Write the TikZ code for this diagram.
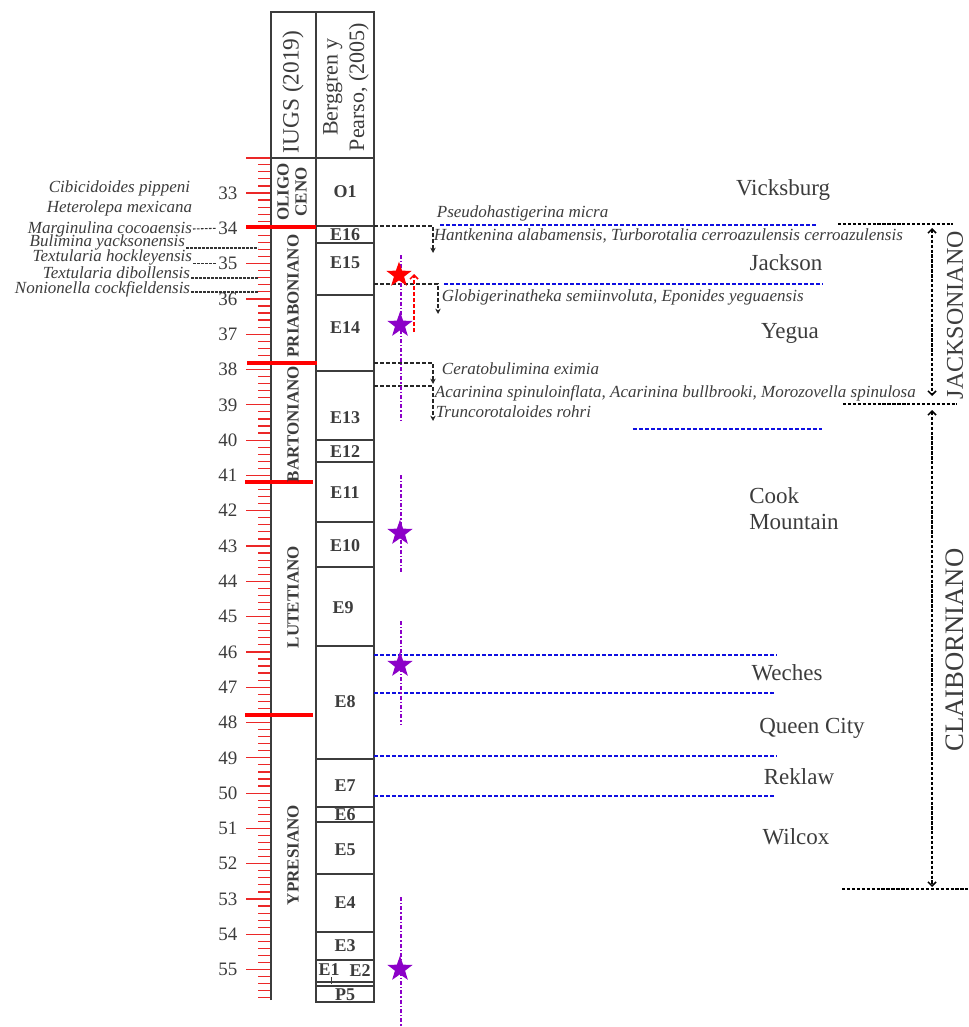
\documentclass[tikz,border=0pt]{standalone}
\usepackage{fontspec}
\setmainfont{Liberation Serif}
\usepackage{tikz}
\usetikzlibrary{positioning,shapes.geometric,arrows.meta}
\definecolor{ink}{RGB}{60,60,60}
\definecolor{rulered}{RGB}{235,40,40}
\definecolor{fmblue}{RGB}{15,15,225}
\definecolor{starviolet}{RGB}{140,0,200}

\begin{document}
\begin{tikzpicture}[x=0.75pt, y=-0.75pt,
	>={Straight Barb[length=3pt,width=6pt]},
	colbox/.style={draw=ink, line width=1.3pt},
	tickln/.style={draw=rulered, line width=0.9pt},
	stagebnd/.style={draw=red, line width=2.4pt},
	zonelbl/.style={text=ink, font=\fontsize{13.5}{15}\selectfont\bfseries, inner sep=0pt},
	stagelbl/.style={text=ink, font=\fontsize{12.75}{13.5}\selectfont\bfseries, rotate=90, align=center, inner sep=0pt},
	hdrlbl/.style={text=ink, font=\fontsize{17}{20}\selectfont, rotate=90, align=center, inner sep=0pt},
	agelbl/.style={text=ink, font=\fontsize{14.25}{16}\selectfont, anchor=east, inner sep=1pt},
	taxonlbl/.style={text=ink, font=\fontsize{12.75}{15}\selectfont\itshape, inner sep=0.5pt},
	fmlbl/.style={text=ink, font=\fontsize{17.25}{19.5}\selectfont, inner sep=0pt},
	eralbl/.style={text=ink, font=\fontsize{18}{20}\selectfont, rotate=90, inner sep=0pt},
	leadln/.style={draw=black!80, line width=0.8pt, dash pattern=on 2pt off 1pt},
	rangeln/.style={draw=black!85, line width=1.1pt, dash pattern=on 3pt off 1.5pt, -{Stealth[length=4pt,width=4pt]}},
	fmln/.style={draw=fmblue, line width=1.2pt, dash pattern=on 3pt off 1.5pt},
	occln/.style={draw=starviolet, line width=1pt, dash pattern=on 3pt off 1.5pt on 1pt off 1.5pt},
	brkln/.style={draw=black, line width=1.1pt, dash pattern=on 2.5pt off 1.2pt},
	fossil/.style={star, star points=5, star point ratio=2.5, minimum size=20pt, inner sep=0pt},
	]
	\useasboundingbox (0,0) rectangle (968,1027);

	\draw[tickln] (246,158) -- (271,158);
	\foreach \k in {1,...,119}
		\draw[tickln] (258,{157.7+7.06*\k}) -- (271,{157.7+7.06*\k});
	\foreach \m in {33,...,55}{
		\draw[tickln] (246,{157.7+35.3*(\m-32)}) -- (271,{157.7+35.3*(\m-32)});
		\node[agelbl] (m\m) at (239,{157.7+35.3*(\m-32)}) {\m};
	}

	\draw[colbox] (271,1000) -- (271,12) -- (374,12) -- (374,1002) -- (316,1002) -- (316,12);
	\draw[colbox] (271,158) -- (374,158);
	\foreach \yy in {226,243,295,371,440,462,522,567,646,759,807,822,874,932,960,982,986}
		\draw[colbox] (316,\yy) -- (374,\yy);
	\draw[colbox, line width=0.6pt] (331,977) -- (331,984);

	\draw[stagebnd] (246,227) -- (316,227);
	\draw[stagebnd] (247,363) -- (317,363);
	\draw[stagebnd] (245,482) -- (313,482);
	\draw[stagebnd] (245,715) -- (313,715);

	\node[hdrlbl, font=\fontsize{17.5}{20}\selectfont] (iugs) at (293,92) {IUGS (2019)};
	\node[hdrlbl, font=\fontsize{16.5}{20}\selectfont] (bp) at (346,87) {Berggren y\\Pearso, (2005)};

	\node[stagelbl] (olig) at (292,192) {OLIGO\\CENO};
	\node[stagelbl] (pri) at (293,296) {PRIABONIANO};
	\node[stagelbl] (bar) at (293,424) {BARTONIANO};
	\node[stagelbl] (lut) at (293,597) {LUTETIANO};
	\node[stagelbl] (ypr) at (293,855) {YPRESIANO};

	\node[zonelbl] (O1) at (345,192) {O1};
	\node[zonelbl] (E16) at (345,235) {E16};
	\node[zonelbl] (E15) at (345,263) {E15};
	\node[zonelbl] (E14) at (345,328) {E14};
	\node[zonelbl] (E13) at (345,418) {E13};
	\node[zonelbl] (E12) at (345,452) {E12};
	\node[zonelbl] (E11) at (345,493) {E11};
	\node[zonelbl] (E10) at (345,546) {E10};
	\node[zonelbl] (E9) at (343,608) {E9};
	\node[zonelbl] (E8) at (345,702) {E8};
	\node[zonelbl] (E7) at (345,786) {E7};
	\node[zonelbl] (E6) at (345,815) {E6};
	\node[zonelbl] (E5) at (345,850) {E5};
	\node[zonelbl] (E4) at (345,903) {E4};
	\node[zonelbl] (E3) at (345,946) {E3};
	\node[zonelbl] (E1) at (329,970) {E1};
	\node[zonelbl] (E2) at (360,971) {E2};
	\node[zonelbl] (P5) at (345,995) {P5};

	\node[taxonlbl, anchor=east] (cib) at (191,188) {Cibicidoides pippeni};
	\node[taxonlbl, anchor=east] (het) at (193,208) {Heterolepa mexicana};
	\node[taxonlbl, anchor=east] (marg) at (193,229) {Marginulina cocoaensis};
	\node[taxonlbl, anchor=east] (bul) at (186,242) {Bulimina yacksonensis};
	\node[taxonlbl, anchor=east] (hock) at (193,257) {Textularia hockleyensis};
	\node[taxonlbl, anchor=east] (dib) at (191,273) {Textularia dibollensis};
	\node[taxonlbl, anchor=east] (non) at (191,289) {Nonionella cockfieldensis};
	\coordinate (t348) at (258,248);
	\coordinate (t354) at (258,278);
	\coordinate (t358) at (258,292);
	\draw[leadln] (marg.east) -- (m34.west);
	\draw[leadln] (bul.east |- t348) -- (t348);
	\draw[leadln] (hock.east |- m35.west) -- (m35.west);
	\draw[leadln] (dib.east |- t354) -- (t354);
	\draw[leadln] (non.east |- t358) -- (t358);

	\draw[fmln] (440,225) -- (817,225);
	\draw[fmln] (444,284) -- (823,284);
	\draw[fmln] (633,429) -- (822,429);
	\draw[fmln] (374,655) -- (777,655);
	\draw[fmln] (374,693) -- (776,693);
	\draw[fmln] (374,756) -- (777,756);
	\draw[fmln] (374,796) -- (774,796);

	\node[fmlbl] (vic) at (783,190) {Vicksburg};
	\node[fmlbl] (jac) at (786,263) {Jackson};
	\node[fmlbl] (yeg) at (790,333) {Yegua};
	\node[fmlbl, align=left, anchor=west] (cook) at (749,509) {Cook\\Mountain};
	\node[fmlbl] (wec) at (787,673) {Weches};
	\node[fmlbl] (qc) at (812,728) {Queen City};
	\node[fmlbl] (rek) at (799,777) {Reklaw};
	\node[fmlbl] (wil) at (796,837) {Wilcox};

	\node[taxonlbl, anchor=west] (pse) at (436,213) {Pseudohastigerina micra};
	\node[taxonlbl, anchor=west] (han) at (433,236) {Hantkenina alabamensis, Turborotalia cerroazulensis cerroazulensis};
	\node[taxonlbl, anchor=west] (glo) at (441,297) {Globigerinatheka semiinvoluta, Eponides yeguaensis};
	\node[taxonlbl, anchor=west] (cer) at (441,369) {Ceratobulimina eximia};
	\node[taxonlbl, anchor=west] (aca) at (434,393) {Acarinina spinuloinflata, Acarinina bullbrooki, Morozovella spinulosa};
	\node[taxonlbl, anchor=west] (tru) at (435,412) {Truncorotaloides rohri};

	\coordinate (hk0) at (374,226);
	\coordinate (hk1) at (433,253);
	\coordinate (gl0) at (374,284);
	\coordinate (gl1) at (438,314);
	\coordinate (ce0) at (374,363);
	\coordinate (ce1) at (433,384);
	\coordinate (ac0) at (374,386);
	\coordinate (ac1) at (433,421);
	\draw[rangeln] (hk0) -| (hk1);
	\draw[rangeln] (gl0) -| (gl1);
	\draw[rangeln] (ce0) -| (ce1);
	\draw[rangeln] (ac0) -| (ac1);

	\draw[occln] (401,255) -- (401,422);
	\draw[occln] (401,475) -- (401,572);
	\draw[occln] (401,621) -- (401,725);
	\draw[occln] (401,897) -- (401,1027);
	\coordinate (rb) at (414,332);
	\coordinate (rt) at (414,274);
	\draw[draw=red, line width=1.1pt, dash pattern=on 3pt off 1.5pt, ->] (rb) -- (rt);
	\node[fossil, fill=red] (s1) at (399,275) {};
	\node[fossil, fill=starviolet] (s2) at (400,325) {};
	\node[fossil, fill=starviolet] (s3) at (400,533) {};
	\node[fossil, fill=starviolet] (s4) at (400,665) {};
	\node[fossil, fill=starviolet] (s5) at (400,969) {};

	\coordinate (bt0) at (838,224);
	\coordinate (bt1) at (953,224);
	\coordinate (bm0) at (843,404);
	\coordinate (bm1) at (957,404);
	\coordinate (bb0) at (842,889);
	\coordinate (bb1) at (968,889);
	\draw[brkln] (bt0) -- (bt1);
	\draw[brkln] (bm0) -- (bm1);
	\draw[brkln] (bb0) -- (bb1);
	\draw[brkln, <->] (932,228) -- (932,396);
	\draw[brkln, <->] (932,410) -- (932,887);
	\node[eralbl] (jacks) at (955,315) {JACKSONIANO};
	\node[eralbl, font=\fontsize{20}{22}\selectfont] (claib) at (955,650) {CLAIBORNIANO};
\end{tikzpicture}
\end{document}
